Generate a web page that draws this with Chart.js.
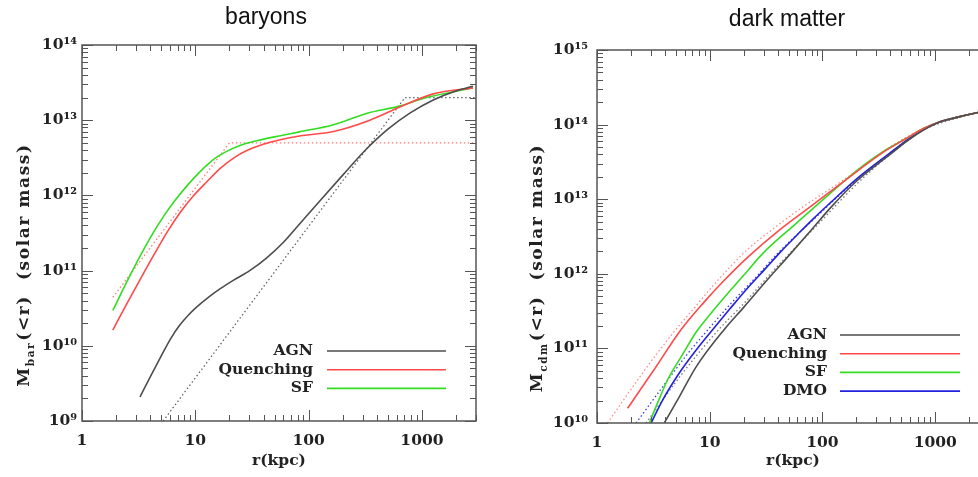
<!DOCTYPE html>
<html>
<head>
<meta charset="utf-8">
<script src="https://cdn.jsdelivr.net/npm/chart.js@4.4.0/dist/chart.umd.min.js"></script>
<style>
  body { margin: 0; background: #fff; }
  #wrap { position: relative; width: 978px; height: 477px; overflow: hidden; }
  canvas { position: absolute; top: 0; }
  #baryons { left: 0; }
  #darkMatter { left: 490px; }
</style>
</head>
<body>
<div id="wrap">
  <canvas id="baryons" width="490" height="477"></canvas>
  <canvas id="darkMatter" width="512" height="477"></canvas>
</div>
<script>
// enclosed mass profiles: radius in kpc, mass in solar masses

// baryons
const barAgnR = [3.25, 3.98, 4.9, 6.03, 7.24, 8.71, 10.2, 13.2, 16.6, 21.6, 30.2, 42.7, 60.3, 83.2, 126, 200, 316, 501, 794, 1259, 1995, 2818];
const barAgnM = [2.09e9, 3.8e9, 6.92e9, 1.23e10, 1.86e10, 2.57e10, 3.24e10, 4.47e10, 5.75e10, 7.41e10, 1.0e11, 1.48e11, 2.4e11, 4.17e11, 8.51e11, 1.86e12, 3.98e12, 7.59e12, 1.26e13, 1.86e13, 2.45e13, 2.82e13];
const barQuenchR = [1.87, 2.51, 3.31, 4.37, 5.75, 7.41, 9.55, 12.6, 16.6, 21.9, 28.8, 39.8, 56.2, 83.2, 166, 347, 646, 1259, 2818];
const barQuenchM = [1.62e10, 3.72e10, 7.96e10, 1.68e11, 3.4e11, 6.01e11, 9.73e11, 1.51e12, 2.29e12, 3.16e12, 3.98e12, 4.79e12, 5.5e12, 6.17e12, 7.08e12, 1.0e13, 1.51e13, 2.24e13, 2.69e13];
const barSfR = [1.87, 2.51, 3.31, 4.17, 5.25, 6.61, 8.51, 11.2, 14.8, 19.1, 25.1, 35.5, 56.2, 83.2, 166, 324, 646, 1096, 2818];
const barSfM = [2.95e10, 7.29e10, 1.63e11, 3.03e11, 5.26e11, 8.53e11, 1.36e12, 2.12e12, 3.08e12, 3.88e12, 4.65e12, 5.37e12, 6.22e12, 7.0e12, 8.71e12, 1.23e13, 1.55e13, 2.0e13, 2.69e13];
// broken power-law fits
const barAgnFitR = [5.2, 708, 3000];
const barAgnFitM = [1e9, 2e13, 2e13];
const barQuenchFitR = [1.87, 20, 3000];
const barQuenchFitM = [4.4e10, 5e12, 5e12];

// dark matter
const dmAgnR = [3.95, 5.37, 7.55, 13.4, 20, 31.6, 50.1, 83.2, 117, 200, 398, 562, 794, 1122, 1585, 2399, 3000];
const dmAgnM = [1.0e10, 2.24e10, 5.62e10, 1.78e11, 3.55e11, 7.94e11, 1.74e12, 4.17e12, 7.59e12, 1.74e13, 3.98e13, 6.03e13, 8.51e13, 1.1e14, 1.26e14, 1.45e14, 1.55e14];
const dmQuenchR = [1.87, 3.16, 5.56, 8.91, 13.2, 22.4, 41.7, 83.2, 158, 347, 562, 794, 1122, 1585, 2399, 3000];
const dmQuenchM = [1.58e10, 5.01e10, 1.78e11, 4.17e11, 7.94e11, 1.74e12, 3.89e12, 8.51e12, 1.78e13, 4.27e13, 6.61e13, 8.91e13, 1.1e14, 1.26e14, 1.45e14, 1.55e14];
const dmSfR = [2.91, 3.63, 4.23, 5.75, 7.59, 10, 14.1, 20, 29.9, 58.9, 117, 200, 347, 562, 794, 1122, 1585, 2399, 3000];
const dmSfM = [1.0e10, 2.24e10, 3.8e10, 8.32e10, 1.66e11, 2.82e11, 5.25e11, 9.55e11, 1.91e12, 4.79e12, 1.2e13, 2.4e13, 4.37e13, 6.61e13, 8.91e13, 1.1e14, 1.26e14, 1.45e14, 1.55e14];
const dmDmoR = [3.02, 3.80, 5.37, 7.59, 10.6, 15.1, 21.4, 31.6, 41.7, 63.1, 83.2, 117, 200, 398, 562, 794, 1122, 1585, 2399, 3000];
const dmDmoM = [1.0e10, 2.0e10, 4.68e10, 9.55e10, 1.78e11, 3.39e11, 6.31e11, 1.2e12, 1.91e12, 3.63e12, 5.5e12, 8.91e12, 1.86e13, 4.17e13, 6.17e13, 8.71e13, 1.1e14, 1.26e14, 1.45e14, 1.55e14];
// NFW fits
const dmAgnFitR = [2.72, 5.75, 11.5, 20, 39.8, 83.2, 200, 398, 794, 1585, 3000];
const dmAgnFitM = [1.0e10, 4.68e10, 1.66e11, 3.98e11, 1.26e12, 3.98e12, 1.58e13, 3.98e13, 8.51e13, 1.23e14, 1.55e14];
const dmQuenchFitR = [1.24, 2.51, 4.68, 7.08, 10.7, 15.8, 21.4, 36.3, 63.1, 158, 398, 794, 1585, 3000];
const dmQuenchFitM = [1.0e10, 4.57e10, 1.58e11, 3.31e11, 6.92e11, 1.32e12, 2.09e12, 3.98e12, 7.41e12, 1.86e13, 5.01e13, 8.91e13, 1.26e14, 1.55e14];
const dmDmoFitR = [2.22, 3.98, 6.31, 9.89, 15.8, 26.3, 41.7, 79.4, 158, 398, 794, 1585, 3000];
const dmDmoFitM = [1.0e10, 3.31e10, 8.32e10, 1.86e11, 4.17e11, 9.33e11, 2.0e12, 5.01e12, 1.32e13, 4.17e13, 8.71e13, 1.26e14, 1.55e14];

const rMin = 1, rMax = 3000;

const GREY = '#4d4d4d', RED = '#ff4a4a', GREEN = '#33dd22', BLUE = '#2222dd';
const SERIF = '"DejaVu Serif", serif';
const LABEL_FONT = 'bold 15.5px ' + SERIF;
const SUP = '⁰¹²³⁴⁵⁶⁷⁸⁹';

function pts(r, m) {
  return r.map((v, i) => ({ x: v, y: m[i] }));
}

function solid(label, r, m, color) {
  return { label, data: pts(r, m), borderColor: color, borderWidth: 1.6, inLegend: true };
}

function dotted(label, r, m, color, smooth) {
  return { label, data: pts(r, m), borderColor: color, borderWidth: 1.3, borderDash: [1.5, 2.5],
           cubicInterpolationMode: smooth ? 'monotone' : 'default', tension: 0 };
}

function decades(min, max) {
  const out = [];
  for (let e = Math.ceil(Math.log10(min) - 1e-9); Math.pow(10, e) <= max * 1.0001; e++) out.push(Math.pow(10, e));
  return out;
}

function logTicks(min, max) {
  const out = [];
  for (let e = Math.floor(Math.log10(min)); e <= Math.ceil(Math.log10(max)); e++) {
    for (let k = 1; k < 10; k++) {
      const v = k * Math.pow(10, e);
      if (v >= min * 0.9999 && v <= max * 1.0001) out.push([v, k === 1]);
    }
  }
  return out;
}

function supLabel(v) {
  const e = String(Math.round(Math.log10(v)));
  return '10' + e.split('').map(c => SUP[+c]).join('');
}

// IDL-style box with inward ticks, titles and an inset legend
const idlFrame = {
  id: 'idlFrame',
  afterDatasetsDraw(chart, args, o) {
    const ctx = chart.ctx, a = chart.chartArea;
    const xs = chart.scales.x, ys = chart.scales.y;
    ctx.save();
    ctx.strokeStyle = '#555';
    ctx.lineWidth = 1.5;
    ctx.strokeRect(a.left, a.top, a.right - a.left, a.bottom - a.top);

    ctx.lineWidth = 1;
    ctx.beginPath();
    logTicks(xs.min, xs.max).forEach(([v, major]) => {
      const p = Math.round(xs.getPixelForValue(v)) + 0.5, len = major ? 11 : 6;
      ctx.moveTo(p, a.bottom); ctx.lineTo(p, a.bottom - len);
      ctx.moveTo(p, a.top); ctx.lineTo(p, a.top + len);
    });
    logTicks(ys.min, ys.max).forEach(([v, major]) => {
      const p = Math.round(ys.getPixelForValue(v)) + 0.5, len = major ? 11 : 6;
      ctx.moveTo(a.left, p); ctx.lineTo(a.left + len, p);
      ctx.moveTo(a.right, p); ctx.lineTo(a.right - len, p);
    });
    ctx.stroke();

    // panel title
    ctx.fillStyle = '#111';
    ctx.font = '23px "Liberation Sans", Arial, sans-serif';
    ctx.textAlign = 'center';
    ctx.textBaseline = 'alphabetic';
    ctx.fillText(o.title, o.titleX, o.titleY);

    // x axis title
    ctx.fillStyle = '#222';
    ctx.font = LABEL_FONT;
    ctx.textBaseline = 'middle';
    ctx.fillText('r(kpc)', o.xTitleX, o.xTitleY);

    // y axis title with subscript, set a little wider
    ctx.save();
    ctx.translate(o.yTitleX, o.yTitleY);
    ctx.rotate(-Math.PI / 2);
    ctx.textAlign = 'left';
    ctx.letterSpacing = '1.6px';
    const big = 'bold 17px ' + SERIF, small = 'bold 10.5px ' + SERIF;
    const rest = '(<r)  (solar mass)';
    ctx.font = big;
    const wM = ctx.measureText('M').width, wR = ctx.measureText(rest).width;
    ctx.font = small;
    const wS = ctx.measureText(o.ySub).width + 1;
    let x = -(wM + wS + wR) / 2;
    ctx.font = big;
    ctx.fillText('M', x, 0);
    x += wM;
    ctx.font = small;
    ctx.fillText(o.ySub, x, 6);
    x += wS;
    ctx.font = big;
    ctx.fillText(rest, x, 0);
    ctx.restore();

    // legend: label right-aligned, sample line after it
    const lg = o.legend;
    ctx.font = LABEL_FONT;
    ctx.textAlign = 'right';
    ctx.textBaseline = 'middle';
    chart.data.datasets.filter(d => d.inLegend).forEach((d, i) => {
      const y = lg.y + i * lg.step;
      ctx.fillStyle = '#222';
      ctx.fillText(d.label, lg.textRight, y);
      ctx.strokeStyle = d.borderColor;
      ctx.lineWidth = 1.6;
      ctx.beginPath();
      ctx.moveTo(lg.x0, y);
      ctx.lineTo(lg.x1, y);
      ctx.stroke();
    });
    ctx.restore();
  }
};

function makeChart(id, datasets, yMin, yMax, box, frame) {
  return new Chart(document.getElementById(id), {
    type: 'line',
    data: { datasets },
    options: {
      responsive: false,
      animation: false,
      layout: { padding: { left: 0, right: box.right, top: box.top, bottom: 0 } },
      elements: {
        point: { radius: 0 },
        line: { cubicInterpolationMode: 'monotone', fill: false }
      },
      plugins: { legend: { display: false }, tooltip: { enabled: false }, idlFrame: frame },
      scales: {
        x: {
          type: 'logarithmic', min: rMin, max: rMax,
          grid: { display: false, drawTicks: false },
          border: { display: false },
          afterBuildTicks: ax => { ax.ticks = decades(rMin, rMax).map(v => ({ value: v })); },
          afterFit: ax => { ax.height = box.xHeight; },
          ticks: { autoSkip: false, maxRotation: 0, padding: 11, color: '#222',
                   font: { family: SERIF, size: 15.5, weight: 'bold' }, callback: v => String(v) }
        },
        y: {
          type: 'logarithmic', min: yMin, max: yMax,
          grid: { display: false, drawTicks: false },
          border: { display: false },
          afterBuildTicks: ax => { ax.ticks = decades(yMin, yMax).map(v => ({ value: v })); },
          afterFit: ax => { ax.width = box.yWidth; },
          ticks: { autoSkip: false, padding: box.yPad, color: '#222',
                   font: { family: SERIF, size: 15.5, weight: 'bold' }, callback: v => supLabel(v) }
        }
      }
    },
    plugins: [idlFrame]
  });
}

makeChart('baryons', [
  solid('AGN', barAgnR, barAgnM, GREY),
  solid('Quenching', barQuenchR, barQuenchM, RED),
  solid('SF', barSfR, barSfM, GREEN),
  dotted('AGN fit', barAgnFitR, barAgnFitM, '#666', false),
  dotted('Quenching fit', barQuenchFitR, barQuenchFitM, '#ff7a7a', false)
], 1e9, 1e14,
{ top: 45, right: 14, xHeight: 56, yWidth: 82, yPad: 5 },
{ title: 'baryons', titleX: 266, titleY: 24, xTitleX: 279, xTitleY: 461,
  yTitleX: 25, yTitleY: 265, ySub: 'bar',
  legend: { textRight: 313, x0: 327, x1: 446, y: 351, step: 18.7 } });

makeChart('darkMatter', [
  solid('AGN', dmAgnR, dmAgnM, GREY),
  solid('Quenching', dmQuenchR, dmQuenchM, RED),
  solid('SF', dmSfR, dmSfM, GREEN),
  solid('DMO', dmDmoR, dmDmoM, BLUE),
  dotted('AGN fit', dmAgnFitR, dmAgnFitM, '#777', true),
  dotted('Quenching fit', dmQuenchFitR, dmQuenchFitM, '#ff8a8a', true),
  dotted('DMO fit', dmDmoFitR, dmDmoFitM, '#3a3aee', true)
], 1e10, 1e15,
{ top: 50, right: 13, xHeight: 54, yWidth: 107, yPad: 9 },
{ title: 'dark matter', titleX: 297, titleY: 26, xTitleX: 303, xTitleY: 461,
  yTitleX: 48, yTitleY: 268, ySub: 'cdm',
  legend: { textRight: 337, x0: 350, x1: 470, y: 335, step: 18.7 } });
</script>
</body>
</html>
